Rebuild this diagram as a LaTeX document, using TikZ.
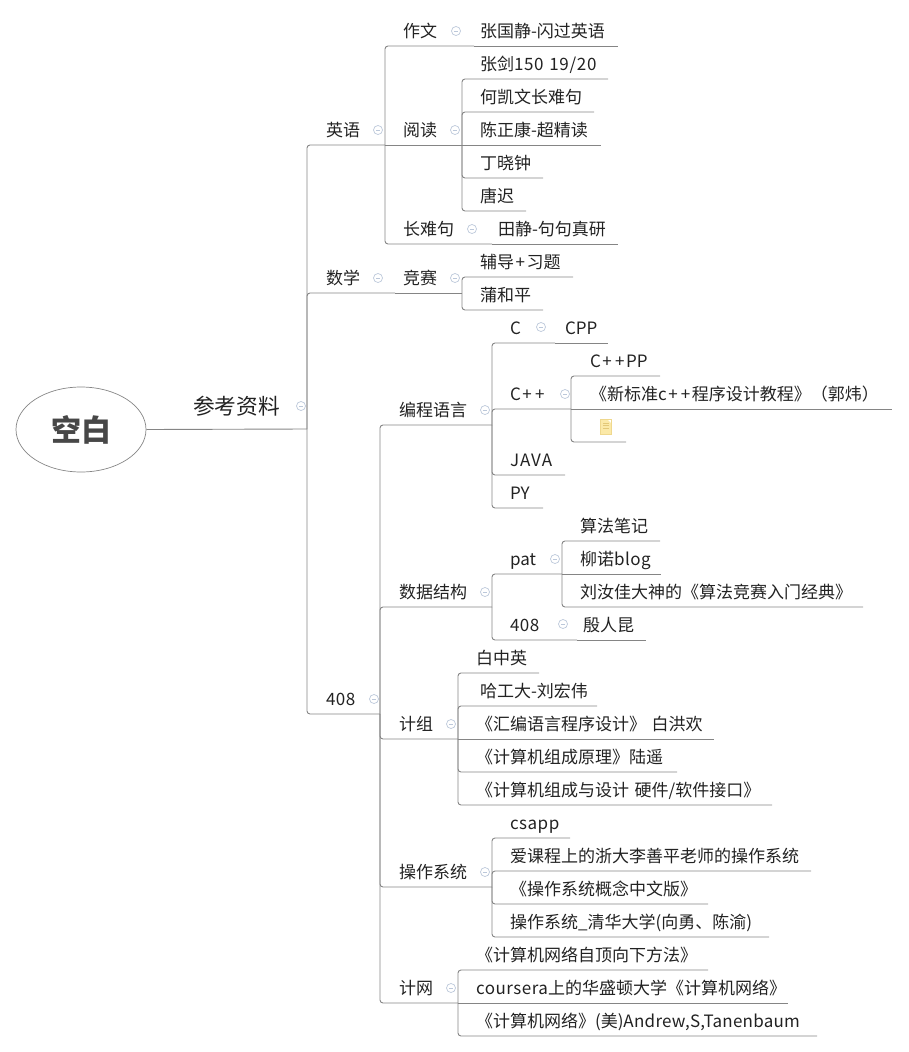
\documentclass[tikz,border=0pt]{standalone}
\usepackage{fontspec}
\usetikzlibrary{shapes.geometric}
\setmainfont{Noto Sans CJK SC}
\definecolor{ln}{HTML}{858585}
\definecolor{tx}{HTML}{222222}
\definecolor{ic}{HTML}{BCC8DA}
\definecolor{notefill}{HTML}{FBE9A8}
\definecolor{noteline}{HTML}{EFD88E}
\definecolor{noterule}{HTML}{E3C878}
\tikzset{
 topic/.style={anchor=south west,inner sep=0pt,outer sep=0pt,text height=14pt,text depth=9pt,align=left,font=\fontsize{17}{20}\selectfont,text=tx},
 conn/.style={draw=ln,line width=0.9pt,rounded corners=3pt},
 fold/.style={circle,draw=ic,line width=0.7pt,minimum size=9pt,inner sep=0pt,
   path picture={\draw[ic,line width=0.7pt] ([xshift=-2.2pt]path picture bounding box.center) -- ([xshift=2.2pt]path picture bounding box.center);}},
}
\newcommand\tp[6][]{%
 \pgfmathsetmacro\tpw{#5-#3}%
 \node[topic,text width=\tpw pt,#1] (#2) at (#3,#4) {\mbox{#6}};}
\newcommand\ic[3]{\node[fold] (#1) at (#2,#3) {};}
\newcommand\pl{\kern1.6pt+\kern1.6pt}
\newcommand\la[2][3]{{\addfontfeatures{LetterSpace=#1}#2}}
\begin{document}
\begin{tikzpicture}[x=1pt,y=-1pt]
\useasboundingbox (0,0) rectangle (908,1052);
\node[ellipse,draw=ln,line width=0.7pt,minimum width=130pt,minimum height=85pt,inner sep=0pt,text=black!72,font=\fontsize{30}{32}\selectfont\bfseries] (root) at (81,429.5) {\raisebox{-2.5pt}{空白}};
\tp[font=\fontsize{21.7}{24}\selectfont,text depth=15pt,text height=17pt]{ref}{193}{429}{307}{参考资料}
% english
\tp{en}{326}{145}{385}{英语}
\tp{zw}{403}{46}{474}{作文}
\tp{zgj}{480}{46}{618}{张国静-闪过英语}
\tp{yd}{403}{145}{462}{阅读}
\tp{zj}{480}{79}{608}{张剑\la[4]{150 19/20}}
\tp{hkw}{480}{112}{594}{何凯文长难句}
\tp{czk}{480}{145}{601}{陈正康-超精读}
\tp{dxz}{480}{178}{543}{丁晓钟}
\tp{tc}{480}{211}{526}{唐迟}
\tp{cnj}{403}{244}{492}{长难句}
\tp{tj}{498}{244}{618}{田静-句句真研}
% math
\tp{sx}{326}{293}{395}{数学}
\tp{js}{403}{293}{462}{竞赛}
\tp{fd}{480}{277}{573}{辅导\pl 习题}
\tp{phb}{480}{310}{543}{蒲和平}
% 408
\tp{ks}{326}{714}{380}{\la{408}}
\tp{bc}{399}{425}{492}{编程语言}
\tp{cc}{510}{343}{555}{C}
\tp{cpp}{565}{343}{608}{CPP}
\tp{cx}{510}{409}{571}{C\pl\pl}
\tp{cxpp}{590}{376}{660}{C\pl\pl PP}
\tp{xbz}{590}{409}{892}{《新标准c\pl\pl 程序设计教程》（郭炜）}
\tp{nt}{590}{442}{626}{}
\tp{jv}{510}{475}{565}{\la[6]{JAVA}}
\tp{py}{510}{508}{543}{PY}
\tp{sj}{399}{607}{492}{数据结构}
\tp{pat}{510}{574}{562}{pat}
\tp{sfbj}{580}{541}{660}{算法笔记}
\tp{ln}{580}{574}{661}{柳诺\la{blog}}
\tp{lrj}{580}{607}{863}{刘汝佳大神的《算法竞赛入门经典》}
\tp{sfe}{510}{640}{577}{\la{408}}
\tp{yrk}{583}{640}{646}{殷人昆}
\tp{jz}{399}{739}{458}{计组}
\tp{bzy}{476}{673}{539}{白中英}
\tp{hgd}{480}{706}{597}{哈工大-刘宏伟}
\tp{hb}{476}{739}{714}{《汇编语言程序设计》 白洪欢}
\tp{zcyl}{476}{772}{677}{《计算机组成原理》陆遥}
\tp{zcsj}{476}{805}{772}{《计算机组成与设计 硬件/软件接口》}
\tp{cz}{399}{887}{492}{操作系统}
\tp{csapp}{510}{838}{570}{\la{csapp}}
\tp{akc}{510}{871}{811}{爱课程上的浙大李善平老师的操作系统}
\tp{gn}{510}{904}{708}{《操作系统概念中文版》}
\tp{qh}{510}{937}{769}{操作系统\_清华大学(向勇、陈渝)}
\tp{jw}{399}{1003}{458}{计网}
\tp{zd}{476}{970}{708}{《计算机网络自顶向下方法》}
\tp{cs}{476}{1003}{788}{\la{coursera}上的华盛顿大学《计算机网络》}
\tp{ta}{476}{1036}{817}{《计算机网络》(美)\la[1.5]{Andrew,S,Tanenbaum}}
% connectors
\draw[conn] (root.east) -- (ref.south east);
\foreach \a/\b in {ref/en,ref/sx,ref/ks,en/zw,en/cnj,yd/zj,yd/hkw,yd/dxz,yd/tc,js/fd,js/phb,
  ks/bc,ks/sj,ks/jz,ks/cz,ks/jw,bc/cc,bc/cx,bc/jv,bc/py,cx/cxpp,cx/nt,sj/pat,sj/sfe,pat/sfbj,pat/lrj,
  jz/bzy,jz/hgd,jz/zcyl,jz/zcsj,cz/csapp,cz/akc,cz/gn,cz/qh,jw/zd,jw/ta}
  {\draw[conn] (\a.south east) |- (\b.south east);}
\foreach \a/\b in {en/yd,zw/zgj,yd/czk,cnj/tj,sx/js,cc/cpp,cx/xbz,pat/ln,sfe/yrk,jz/hb,jw/cs}
  {\draw[conn] (\a.south east) -- (\b.south east);}
% fold marks
\ic{i1}{301}{406}\ic{i2}{378}{130}\ic{i3}{456}{31}\ic{i4}{455}{130}\ic{i5}{472}{229}
\ic{i6}{378}{278}\ic{i7}{455}{278}\ic{i8}{374}{699}\ic{i9}{485}{410}\ic{i10}{541}{327}
\ic{i11}{565}{394}\ic{i12}{485}{592}\ic{i13}{555}{559}\ic{i14}{563}{624}\ic{i15}{451}{724}
\ic{i16}{485}{872}\ic{i17}{451}{988}
% note icon
\node[rectangle,fill=notefill,draw=noteline,line width=0.6pt,minimum width=11pt,minimum height=15pt,inner sep=0pt,
  path picture={\foreach \dy in {-1,1.5,4}{\draw[noterule,line width=0.7pt] ([xshift=-3pt,yshift=\dy pt]path picture bounding box.center) -- ([xshift=3pt,yshift=\dy pt]path picture bounding box.center);}
  \fill[white] ([xshift=1.5pt]path picture bounding box.north) -- (path picture bounding box.north east) -- ([yshift=-4pt]path picture bounding box.north east) -- cycle;}] (noteicon) at (606,427) {};
\end{tikzpicture}
\end{document}
